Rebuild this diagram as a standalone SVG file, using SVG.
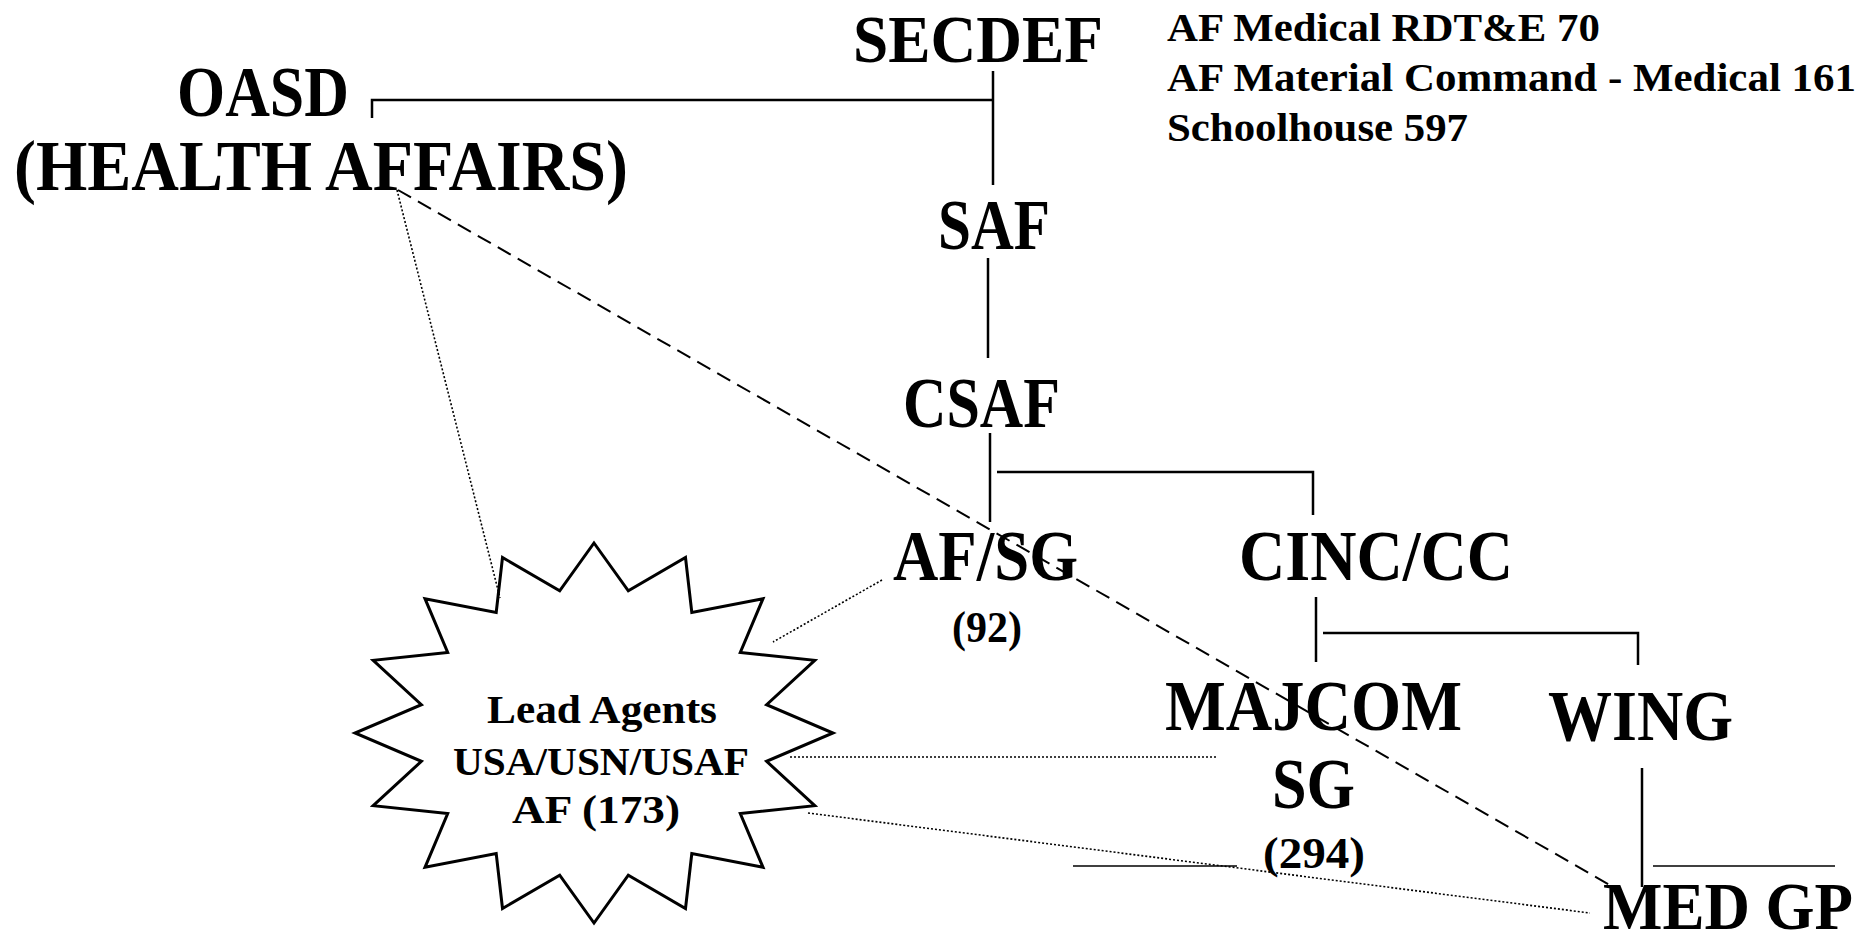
<svg xmlns="http://www.w3.org/2000/svg" width="1858" height="944" viewBox="0 0 1858 944">
  <style>
    text { font-family: "Liberation Serif", "Times New Roman", serif; font-weight: bold; fill: #000; }
    .big { font-size: 72px; }
    .edge { font-size: 68px; }
    .num { font-size: 45px; }
    .note { font-size: 40px; }
    .agent { font-size: 39px; }
    .solid { stroke: #000; stroke-width: 2.5; fill: none; }
    .thin { stroke: #000; stroke-width: 1.5; fill: none; }
    .dash { stroke: #000; stroke-width: 2; fill: none; stroke-dasharray: 15 8; }
    .dot { stroke: #000; stroke-width: 1.6; fill: none; stroke-dasharray: 2 2; }
  </style>
  <rect width="1858" height="944" fill="#fff"/>

  <!-- Lead Agents starburst -->
  <g id="lead-agents">
    <polygon fill="#fff" stroke="#000" stroke-width="3" stroke-linejoin="miter"
      points="594,543 628.3,590.8 685.5,557.5 691.8,612.4 763,598.7 740.3,652.4 814.8,660.3 766.6,704.7 833,733 766.6,761.3 814.8,805.7 740.3,813.6 763,867.3 691.8,853.6 685.5,908.5 628.3,875.2 594,923 559.7,875.2 502.5,908.5 496.2,853.6 425,867.3 447.7,813.6 373.2,805.7 421.4,761.3 355,733 421.4,704.7 373.2,660.3 447.7,652.4 425,598.7 496.2,612.4 502.5,557.5 559.7,590.8"/>
    <text class="agent" x="487" y="723" textLength="230" lengthAdjust="spacingAndGlyphs">Lead Agents</text>
    <text class="agent" x="453" y="775" textLength="296" lengthAdjust="spacingAndGlyphs">USA/USN/USAF</text>
    <text class="agent" x="512" y="823" textLength="168" lengthAdjust="spacingAndGlyphs">AF (173)</text>
  </g>

  <!-- Connectors -->
  <g id="connectors">
    <!-- chain of command -->
    <path class="solid" d="M372,118 V100 H993"/>
    <path class="solid" d="M993,71 V185"/>
    <path class="solid" d="M988,258 V358"/>
    <path class="solid" d="M990,433 V522"/>
    <path class="solid" d="M997,472 H1313 V515"/>
    <path class="solid" d="M1316,597 V662"/>
    <path class="solid" d="M1323,633 H1638 V665"/>
    <path class="solid" d="M1642,768 V887"/>
    <path class="thin" d="M1073,866 H1237"/>
    <path class="thin" d="M1653,866 H1835"/>
    <!-- health affairs coordination -->
    <path class="dash" d="M398,190 L1615,888"/>
    <!-- lead agent links -->
    <path class="dot" d="M397,190 L500,598"/>
    <path class="dot" d="M882,580 L773,642"/>
    <path class="dot" d="M790,757 L1217,757"/>
    <path class="dot" d="M808,813 L1590,913"/>
  </g>

  <g id="oasd">
    <text class="big" x="177" y="116" textLength="172" lengthAdjust="spacingAndGlyphs">OASD</text>
    <text class="big" x="14" y="190" textLength="614" lengthAdjust="spacingAndGlyphs">(HEALTH AFFAIRS)</text>
  </g>
  <g id="secdef">
    <text class="edge" x="853" y="62" textLength="250" lengthAdjust="spacingAndGlyphs">SECDEF</text>
  </g>
  <g id="notes">
    <text class="note" x="1167" y="41" textLength="433" lengthAdjust="spacingAndGlyphs">AF Medical RDT&amp;E 70</text>
    <text class="note" x="1167" y="91" textLength="689" lengthAdjust="spacingAndGlyphs">AF Material Command - Medical 161</text>
    <text class="note" x="1167" y="141" textLength="301" lengthAdjust="spacingAndGlyphs">Schoolhouse 597</text>
  </g>
  <g id="saf">
    <text class="big" x="938" y="249" textLength="112" lengthAdjust="spacingAndGlyphs">SAF</text>
  </g>
  <g id="csaf">
    <text class="big" x="903" y="427" textLength="157" lengthAdjust="spacingAndGlyphs">CSAF</text>
  </g>
  <g id="af-sg">
    <text class="big" x="893" y="580" textLength="185" lengthAdjust="spacingAndGlyphs">AF/SG</text>
    <text class="num" x="952" y="642" textLength="70" lengthAdjust="spacingAndGlyphs">(92)</text>
  </g>
  <g id="cinc-cc">
    <text class="big" x="1239" y="580" textLength="274" lengthAdjust="spacingAndGlyphs">CINC/CC</text>
  </g>
  <g id="majcom-sg">
    <text class="big" x="1165" y="730" textLength="297" lengthAdjust="spacingAndGlyphs">MAJCOM</text>
    <text class="big" x="1272" y="808" textLength="83" lengthAdjust="spacingAndGlyphs">SG</text>
    <text class="num" x="1263" y="868" textLength="102" lengthAdjust="spacingAndGlyphs">(294)</text>
  </g>
  <g id="wing">
    <text class="big" x="1548" y="740" textLength="185" lengthAdjust="spacingAndGlyphs">WING</text>
  </g>
  <g id="med-gp">
    <text class="edge" x="1603" y="929" textLength="250" lengthAdjust="spacingAndGlyphs">MED GP</text>
  </g>
</svg>
